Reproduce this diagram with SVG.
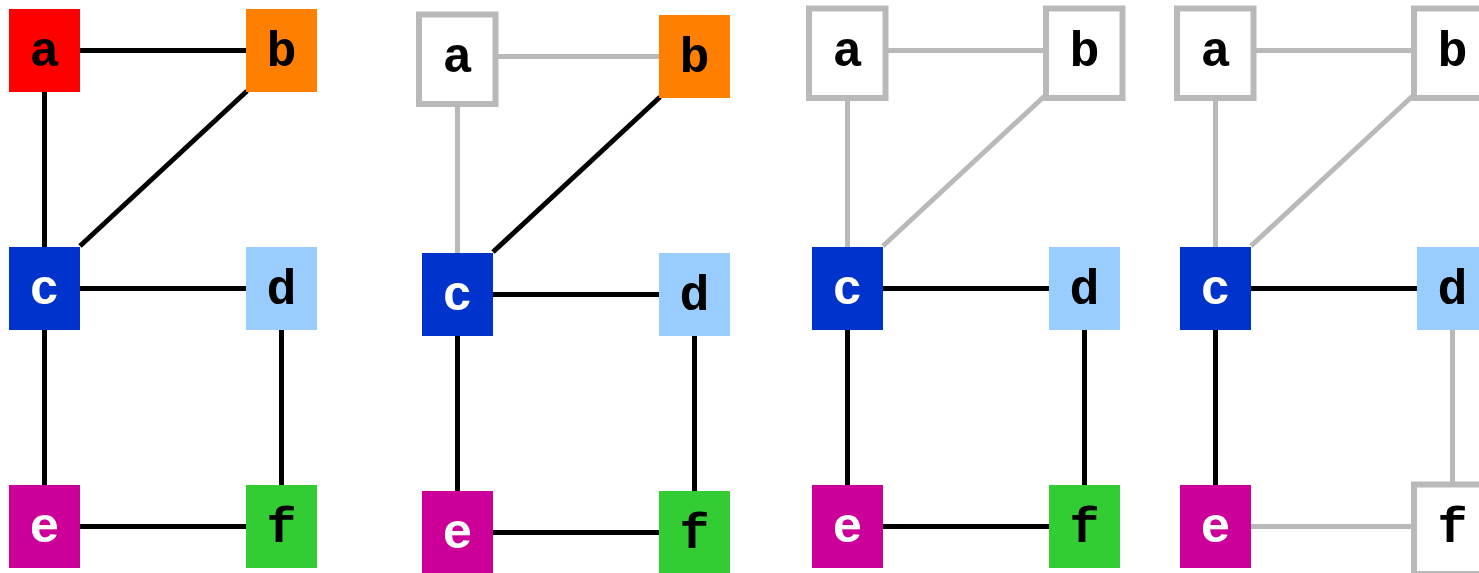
<svg xmlns="http://www.w3.org/2000/svg" width="1479" height="573" viewBox="0 0 1479 573">
<style>
.e{stroke:#000;stroke-width:5;fill:none}
.eg{stroke:#b9b9b9;stroke-width:5;fill:none}
.t{font-family:"Liberation Mono","Courier New",monospace;font-weight:bold;font-size:50px;text-anchor:middle;fill:#000}
.w{fill:#fff}
.box{fill:#fff;stroke:#b9b9b9;stroke-width:6}
.ra{fill:#ff0000}.rb{fill:#ff8000}.rc{fill:#0033cc}.rd{fill:#99ccff}.re{fill:#cc0099}.rf{fill:#33cc33}
</style>
<rect width="1479" height="573" fill="#fff"/>
<g id="connectors">
 <g transform="translate(0,0)">
  <line class="e" x1="80" y1="50.5" x2="246" y2="50.5"/>
  <line class="e" x1="44.5" y1="92" x2="44.5" y2="247"/>
  <line class="e" x1="80" y1="246" x2="247" y2="91"/>
  <line class="e" x1="80" y1="288.5" x2="246" y2="288.5"/>
  <line class="e" x1="44.5" y1="330" x2="44.5" y2="485"/>
  <line class="e" x1="281.5" y1="330" x2="281.5" y2="485"/>
  <line class="e" x1="80" y1="526.5" x2="246" y2="526.5"/>
 </g>
 <g transform="translate(413,6)">
  <line class="eg" x1="80" y1="50.5" x2="246" y2="50.5"/>
  <line class="eg" x1="44.5" y1="92" x2="44.5" y2="247"/>
  <line class="e" x1="80" y1="246" x2="247" y2="91"/>
  <line class="e" x1="80" y1="288.5" x2="246" y2="288.5"/>
  <line class="e" x1="44.5" y1="330" x2="44.5" y2="485"/>
  <line class="e" x1="281.5" y1="330" x2="281.5" y2="485"/>
  <line class="e" x1="80" y1="526.5" x2="246" y2="526.5"/>
 </g>
 <g transform="translate(803,0)">
  <line class="eg" x1="80" y1="50.5" x2="246" y2="50.5"/>
  <line class="eg" x1="44.5" y1="92" x2="44.5" y2="247"/>
  <line class="eg" x1="80" y1="246" x2="247" y2="91"/>
  <line class="e" x1="80" y1="288.5" x2="246" y2="288.5"/>
  <line class="e" x1="44.5" y1="330" x2="44.5" y2="485"/>
  <line class="e" x1="281.5" y1="330" x2="281.5" y2="485"/>
  <line class="e" x1="80" y1="526.5" x2="246" y2="526.5"/>
 </g>
 <g transform="translate(1171,0)">
  <line class="eg" x1="80" y1="50.5" x2="246" y2="50.5"/>
  <line class="eg" x1="44.5" y1="92" x2="44.5" y2="247"/>
  <line class="eg" x1="80" y1="246" x2="247" y2="91"/>
  <line class="e" x1="80" y1="288.5" x2="246" y2="288.5"/>
  <line class="e" x1="44.5" y1="330" x2="44.5" y2="485"/>
  <line class="eg" x1="281.5" y1="330" x2="281.5" y2="485"/>
  <line class="eg" x1="80" y1="526.5" x2="246" y2="526.5"/>
 </g>
</g>
<!-- panel 1 -->
<g id="p1-a" transform="translate(9,9)"><rect class="ra" width="71" height="83"/><text class="t" x="35.5" y="56.5">a</text></g>
<g id="p1-b" transform="translate(246,9)"><rect class="rb" width="71" height="83"/><text class="t" x="35.5" y="56.5">b</text></g>
<g id="p1-c" transform="translate(9,247)"><rect class="rc" width="71" height="83"/><text class="t w" x="35.5" y="56.5">c</text></g>
<g id="p1-d" transform="translate(246,247)"><rect class="rd" width="71" height="83"/><text class="t" x="35.5" y="56.5">d</text></g>
<g id="p1-e" transform="translate(9,485)"><rect class="re" width="71" height="83"/><text class="t w" x="35.5" y="56.5">e</text></g>
<g id="p1-f" transform="translate(246,485)"><rect class="rf" width="71" height="83"/><text class="t" x="35.5" y="56.5">f</text></g>
<!-- panel 2 -->
<g id="p2-a" transform="translate(422,15)"><rect class="box" x="-3" y="-0.5" width="76.5" height="89.5"/><text class="t" x="35.5" y="56.5">a</text></g>
<g id="p2-b" transform="translate(659,15)"><rect class="rb" width="71" height="83"/><text class="t" x="35.5" y="56.5">b</text></g>
<g id="p2-c" transform="translate(422,253)"><rect class="rc" width="71" height="83"/><text class="t w" x="35.5" y="56.5">c</text></g>
<g id="p2-d" transform="translate(659,253)"><rect class="rd" width="71" height="83"/><text class="t" x="35.5" y="56.5">d</text></g>
<g id="p2-e" transform="translate(422,491)"><rect class="re" width="71" height="83"/><text class="t w" x="35.5" y="56.5">e</text></g>
<g id="p2-f" transform="translate(659,491)"><rect class="rf" width="71" height="83"/><text class="t" x="35.5" y="56.5">f</text></g>
<!-- panel 3 -->
<g id="p3-a" transform="translate(812,9)"><rect class="box" x="-3" y="-0.5" width="76.5" height="89.5"/><text class="t" x="35.5" y="56.5">a</text></g>
<g id="p3-b" transform="translate(1049,9)"><rect class="box" x="-3" y="-0.5" width="76.5" height="89.5"/><text class="t" x="35.5" y="56.5">b</text></g>
<g id="p3-c" transform="translate(812,247)"><rect class="rc" width="71" height="83"/><text class="t w" x="35.5" y="56.5">c</text></g>
<g id="p3-d" transform="translate(1049,247)"><rect class="rd" width="71" height="83"/><text class="t" x="35.5" y="56.5">d</text></g>
<g id="p3-e" transform="translate(812,485)"><rect class="re" width="71" height="83"/><text class="t w" x="35.5" y="56.5">e</text></g>
<g id="p3-f" transform="translate(1049,485)"><rect class="rf" width="71" height="83"/><text class="t" x="35.5" y="56.5">f</text></g>
<!-- panel 4 -->
<g id="p4-a" transform="translate(1180,9)"><rect class="box" x="-3" y="-0.5" width="76.5" height="89.5"/><text class="t" x="35.5" y="56.5">a</text></g>
<g id="p4-b" transform="translate(1417,9)"><rect class="box" x="-3" y="-0.5" width="76.5" height="89.5"/><text class="t" x="35.5" y="56.5">b</text></g>
<g id="p4-c" transform="translate(1180,247)"><rect class="rc" width="71" height="83"/><text class="t w" x="35.5" y="56.5">c</text></g>
<g id="p4-d" transform="translate(1417,247)"><rect class="rd" width="71" height="83"/><text class="t" x="35.5" y="56.5">d</text></g>
<g id="p4-e" transform="translate(1180,485)"><rect class="re" width="71" height="83"/><text class="t w" x="35.5" y="56.5">e</text></g>
<g id="p4-f" transform="translate(1417,485)"><rect class="box" x="-3" y="-0.5" width="76.5" height="89.5"/><text class="t" x="35.5" y="56.5">f</text></g>
</svg>
